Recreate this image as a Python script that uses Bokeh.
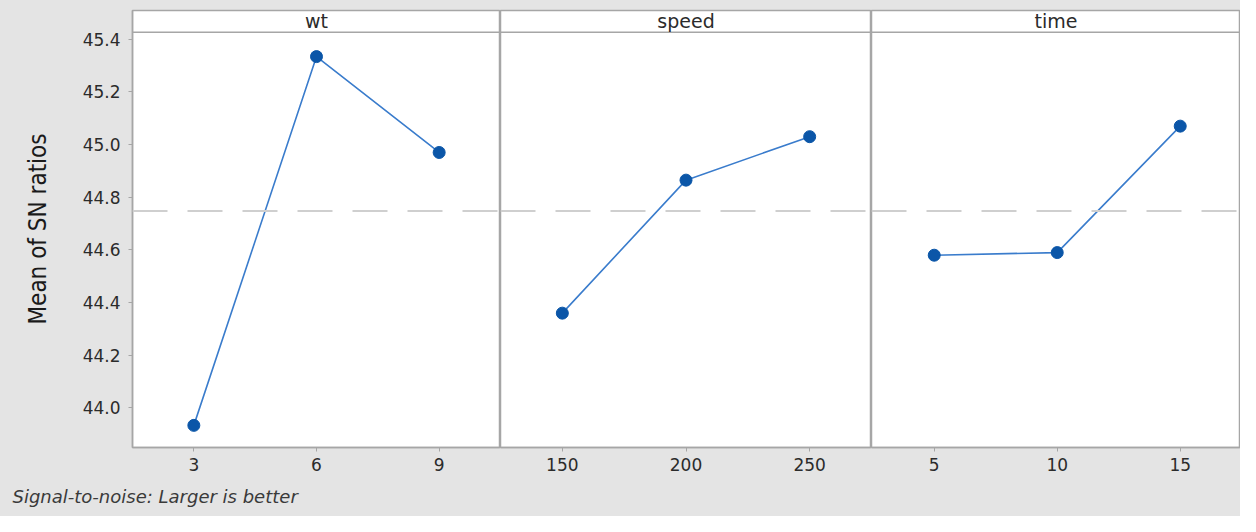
from bokeh.plotting import figure
from bokeh.layouts import row
from bokeh.models import Range1d, FixedTicker, Span, Label, Title
from bokeh.embed import file_html
from bokeh.resources import INLINE
import numpy as np

# ---- data ----
factors = ["wt", "speed", "time"]
wt_levels = [3, 6, 9]
wt_sn = [43.934, 45.334, 44.970]
speed_levels = [150, 200, 250]
speed_sn = [44.360, 44.865, 45.030]
time_levels = [5, 10, 15]
time_sn = [44.580, 44.590, 45.070]
y_ticks = [44.0, 44.2, 44.4, 44.6, 44.8, 45.0, 45.2, 45.4]
y_tick_labels = ["44.0", "44.2", "44.4", "44.6", "44.8", "45.0", "45.2", "45.4"]
y_label = "Mean of SN ratios"
footnote = "Signal-to-noise: Larger is better"

levels = [wt_levels, speed_levels, time_levels]
values = [wt_sn, speed_sn, time_sn]
x_ranges = [(1.5, 10.5), (125, 275), (2.45, 17.45)]
frame_widths = [368, 371, 369]

overall_mean = float(np.mean(wt_sn + speed_sn + time_sn))

BG = "#e4e4e4"
GRID_COL = "#a6a6a6"
LINE_COL = "#3a7ccc"
MARK_COL = "#0b56a8"
TXT = "#2b2b2b"
FONT = "DejaVu Sans"

y_lo, y_hi = 43.850, 45.509
strip_edge = 45.426

figs = []
for i in range(3):
    p = figure(
        output_backend="svg", toolbar_location=None,
        frame_width=frame_widths[i], frame_height=437,
        x_range=Range1d(*x_ranges[i]), y_range=Range1d(y_lo, y_hi),
        y_axis_location="left" if i == 0 else None,
        min_border_left=132 if i == 0 else 0, min_border_right=0,
        min_border_top=10, min_border_bottom=69,
        background_fill_color="white", border_fill_color=BG,
        outline_line_color=GRID_COL, outline_line_width=1.5,
    )
    p.xgrid.visible = False
    p.ygrid.visible = False
    xa = p.xaxis[0]
    xa.ticker = FixedTicker(ticks=levels[i])
    xa.minor_tick_line_color = None
    xa.major_tick_in = 0
    xa.major_tick_out = 4
    xa.major_tick_line_color = GRID_COL
    xa.axis_line_color = GRID_COL
    xa.axis_line_width = 1.5
    xa.major_label_text_font = FONT
    xa.major_label_text_font_size = "17px"
    xa.major_label_text_color = TXT
    xa.major_label_standoff = 6
    if i == 0:
        ya = p.yaxis[0]
        ya.ticker = FixedTicker(ticks=y_ticks)
        ya.major_label_overrides = {t: l for t, l in zip(y_ticks, y_tick_labels)}
        ya.minor_tick_line_color = None
        ya.major_tick_in = 0
        ya.major_tick_out = 4
        ya.major_tick_line_color = GRID_COL
        ya.axis_line_color = GRID_COL
        ya.axis_line_width = 1.5
        ya.major_label_text_font = FONT
        ya.major_label_text_font_size = "17px"
        ya.major_label_text_color = TXT
        ya.major_label_standoff = 8
        ya.axis_label = y_label
        ya.axis_label_text_font = "DejaVu Sans Condensed"
        ya.axis_label_text_font_size = "24px"
        ya.axis_label_text_font_style = "normal"
        ya.axis_label_text_color = "#1a1a1a"
        ya.axis_label_standoff = 28

        p.add_layout(Title(text=footnote, align="left", offset=-120, standoff=20,
                           text_font=FONT, text_font_size="18px",
                           text_font_style="italic", text_color="#3a3a3a"), "below")

    # strip header
    p.add_layout(Span(location=strip_edge, dimension="width",
                      line_color=GRID_COL, line_width=1.5))
    xc = sum(x_ranges[i]) / 2
    p.add_layout(Label(x=xc, y=(strip_edge + y_hi) / 2, text=factors[i],
                       text_align="center", text_baseline="middle",
                       text_font=FONT, text_font_size="19px", text_color=TXT))

    # overall mean reference line
    p.add_layout(Span(location=overall_mean, dimension="width",
                      line_color="#cfcfcf", line_width=2, line_dash="35 20"))

    p.line(levels[i], values[i], line_color=LINE_COL, line_width=1.6)
    p.scatter(levels[i], values[i], size=12, fill_color=MARK_COL,
              line_color=MARK_COL, marker="circle")
    figs.append(p)

layout = row(*figs, spacing=0, styles={"background-color": BG})
open("out.html", "w").write(file_html(layout, INLINE))
